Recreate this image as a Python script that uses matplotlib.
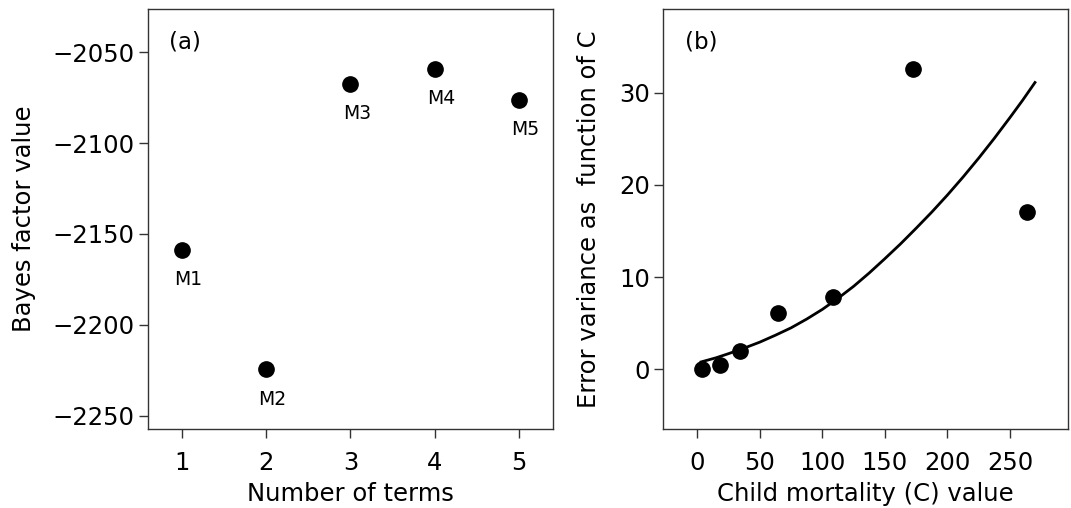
import numpy as np
import matplotlib
matplotlib.use('Agg')
import matplotlib.pyplot as plt

# panel (a): Bayes factor per model
n_terms = [1, 2, 3, 4, 5]
bayes = [-2158.8, -2224.3, -2067.3, -2059.2, -2076.1]
model_names = ['M1', 'M2', 'M3', 'M4', 'M5']

# panel (b): error variance vs child mortality
child_mort = [4.0, 18.1, 34.1, 64.2, 108.2, 172.7, 263.3]
err_var = [0.04, 0.47, 1.99, 6.07, 7.88, 32.6, 17.1]

# fitted curve
fit_x = [3, 15, 25, 37.5, 50, 62.5, 75, 87.5, 100, 112.5, 125, 137.5,
         150, 162.5, 175, 187.5, 200, 212.5, 225, 237.5, 250, 260, 270]
fit_y = [0.8, 1.25, 1.7, 2.3, 2.95, 3.7, 4.5, 5.45, 6.5, 7.7, 9.0, 10.45,
         12.0, 13.6, 15.3, 17.05, 18.9, 20.85, 22.9, 25.05, 27.3, 29.15, 31.1]

plt.rcParams['font.family'] = 'DejaVu Sans'
edge = '#333333'
fs = 17.5

fig = plt.figure(figsize=(10.71, 5.08), dpi=100)
ax1 = fig.add_axes([148/1071, 1 - 429/508, 405/1071, 420/508])
ax2 = fig.add_axes([663/1071, 1 - 429/508, 405/1071, 420/508])

for ax in (ax1, ax2):
    for s in ax.spines.values():
        s.set_color(edge)
        s.set_linewidth(1.0)
    ax.tick_params(direction='out', length=6.5, width=1.0, color=edge,
                   labelsize=fs)
    ax.tick_params(axis='x', pad=9)
    ax.tick_params(axis='y', pad=3)

ax1.plot(n_terms, bayes, 'o', color='black', ms=11)
for x, y, name in zip(n_terms, bayes, model_names):
    ax1.annotate(name, (x, y), textcoords='offset points', xytext=(4.5, -21.6),
                 ha='center', va='center', fontsize=13.5)
ax1.set_xlim(0.6, 5.4)
ax1.set_ylim(-2257.3, -2026.2)
ax1.set_xticks([1, 2, 3, 4, 5])
ax1.set_yticks([-2250, -2200, -2150, -2100, -2050])
ax1.set_xlabel('Number of terms', fontsize=fs)
ax1.set_ylabel('Bayes factor value', fontsize=fs)
ax1.xaxis.set_label_coords(0.5, -0.127)
ax1.yaxis.set_label_coords(-0.277, 0.5)
ax1.text(0.091, 0.921, '(a)', transform=ax1.transAxes, ha='center', va='center', fontsize=16.5)

ax2.plot(fit_x, fit_y, '-', color='black', lw=2)
ax2.plot(child_mort, err_var, 'o', color='black', ms=11)
ax2.set_xlim(-27.4, 296.4)
ax2.set_ylim(-6.47, 39.07)
ax2.set_xticks([0, 50, 100, 150, 200, 250])
ax2.set_yticks([0, 10, 20, 30])
ax2.set_xlabel('Child mortality (C) value', fontsize=fs)
ax2.set_ylabel('Error variance as  function of C', fontsize=fs)
ax2.xaxis.set_label_coords(0.5, -0.127)
ax2.yaxis.set_label_coords(-0.153, 0.5)
ax2.text(0.094, 0.921, '(b)', transform=ax2.transAxes, ha='center', va='center', fontsize=16.5)

fig.savefig('out.png', dpi=100)
